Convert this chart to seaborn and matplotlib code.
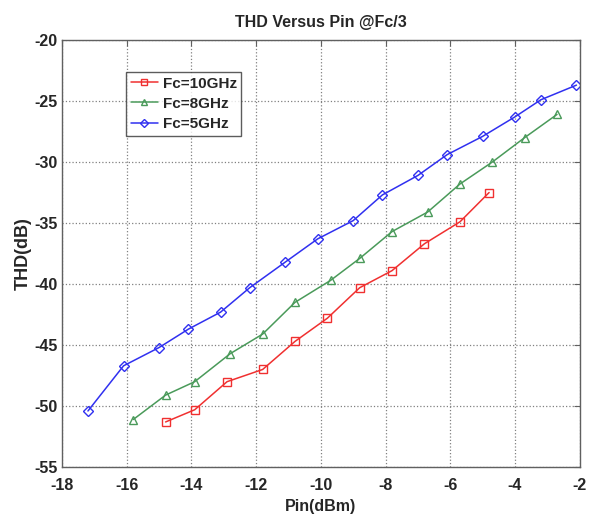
import matplotlib
matplotlib.use("Agg")
import matplotlib.pyplot as plt
import seaborn as sns
import pandas as pd

# values
pin_10g = [-14.8, -13.9, -12.9, -11.8, -10.8, -9.8, -8.8, -7.8, -6.8, -5.7, -4.8]
thd_10g = [-51.3, -50.3, -48.0, -47.0, -44.7, -42.8, -40.3, -38.9, -36.7, -34.9, -32.5]

pin_8g = [-15.8, -14.8, -13.9, -12.8, -11.8, -10.8, -9.7, -8.8, -7.8, -6.7, -5.7, -4.7, -3.7, -2.7]
thd_8g = [-51.1, -49.1, -48.0, -45.7, -44.1, -41.5, -39.7, -37.9, -35.7, -34.1, -31.8, -30.0, -28.0, -26.1]

pin_5g = [-17.2, -16.1, -15.0, -14.1, -13.1, -12.2, -11.1, -10.1, -9.0, -8.1, -7.0, -6.1, -5.0, -4.0, -3.2, -2.1]
thd_5g = [-50.4, -46.7, -45.2, -43.7, -42.3, -40.3, -38.2, -36.3, -34.8, -32.7, -31.1, -29.4, -27.9, -26.3, -24.9, -23.7]

labels = ['Fc=10GHz', 'Fc=8GHz', 'Fc=5GHz']
colors = ['#f03030', '#4a9a5a', '#3030f0']
markers = ['s', '^', 'D']
x_ticks = [-18, -16, -14, -12, -10, -8, -6, -4, -2]
y_ticks = [-55, -50, -45, -40, -35, -30, -25, -20]

sns.set_style('white')
plt.rcParams['font.family'] = ['Liberation Sans', 'DejaVu Sans']

fig = plt.figure(figsize=(5.97, 5.19), dpi=100)
ax = fig.add_axes([0.104, 0.100, 0.867, 0.823])

series = [(pin_10g, thd_10g), (pin_8g, thd_8g), (pin_5g, thd_5g)]
for (xs, ys), lab, col, mk in zip(series, labels, colors, markers):
    df = pd.DataFrame({'Pin': xs, 'THD': ys})
    sns.lineplot(data=df, x='Pin', y='THD', ax=ax, color=col, marker=mk,
                 markersize=6 if mk != 'D' else 5, markerfacecolor='none',
                 markeredgecolor=col, markeredgewidth=1.0, linewidth=1.1,
                 label=lab)

ax.set_xlim(-18, -2)
ax.set_ylim(-55, -20)
ax.set_xticks(x_ticks)
ax.set_yticks(y_ticks)
ax.set_xticklabels([str(t) for t in x_ticks], fontsize=11.5, fontweight='bold')
ax.set_yticklabels([str(t) for t in y_ticks], fontsize=11.5, fontweight='bold')
ax.tick_params(axis='x', direction='in', length=4, pad=8, top=True, color='#606060')
ax.tick_params(axis='y', direction='in', length=4, pad=3, right=True, color='#606060')
ax.grid(True, linestyle=':', color='#808080', linewidth=0.9)
for sp in ax.spines.values():
    sp.set_color('#606060')
    sp.set_linewidth(1.0)

ax.set_title('THD Versus Pin @Fc/3', fontsize=11.5, fontweight='bold', pad=9)
ax.set_xlabel('Pin(dBm)', fontsize=11.5, fontweight='bold', labelpad=4)
ax.set_ylabel('THD(dB)', fontsize=13, fontweight='bold', labelpad=2)

leg = ax.legend(loc='upper left', bbox_to_anchor=(0.211, 0.861), bbox_transform=fig.transFigure,
                prop={'weight': 'bold', 'size': 11}, frameon=True, fancybox=False,
                borderpad=0.3, labelspacing=0.4, handlelength=1.8, handletextpad=0.3,
                borderaxespad=0, markerscale=0.8)
leg.get_frame().set_edgecolor('#333333')
leg.get_frame().set_linewidth(1.0)

fig.savefig('out.png', dpi=100)
